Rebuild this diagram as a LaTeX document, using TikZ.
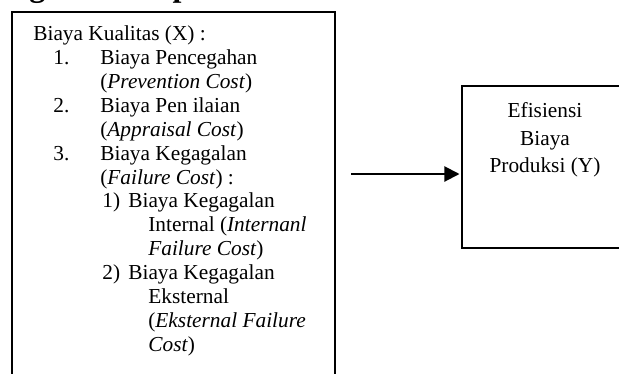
\documentclass[tikz,border=0pt]{standalone}
\usepackage{fontspec}
\setmainfont{Liberation Serif}
\usetikzlibrary{arrows.meta}
\begin{document}
\begin{tikzpicture}[x=0.5625pt,y=-0.5625pt,
  txt/.style={anchor=base west,inner sep=0pt,font=\fontsize{12}{14}\selectfont},
  ctxt/.style={anchor=base,inner sep=0pt,font=\fontsize{12}{14}\selectfont},
  boxline/.style={draw=black,line width=1.4pt,outer sep=0pt,inner sep=0pt,anchor=north west},
  link/.style={line width=1.1pt,shorten >=1.4pt,-{Triangle[length=8.5pt,width=8.5pt]}}]
\useasboundingbox (0,0) rectangle (619,374);
% heading, mostly outside the picture
\node[txt,font=\fontsize{18}{20}\selectfont\bfseries] (head) at (-58,-4) {Kerangka Konseptual};
% boxes
\node[boxline,minimum width=181.7pt,minimum height=218.3pt] (X) at (12,12) {};
\node[boxline,minimum width=93.4pt,minimum height=91.1pt] (Y) at (462,86) {};
% left box text
\node[txt] (x0) at (33,40.6) {Biaya Kualitas (X) :};
\node[txt] (n1) at (53,64.5) {1.};
\node[txt] (x1) at (100,64.5) {Biaya Pencegahan};
\node[txt] (x2) at (100,88.4) {(\textit{Prevention Cost})};
\node[txt] (n2) at (53,112.3) {2.};
\node[txt] (x3) at (100,112.3) {Biaya Pen ilaian};
\node[txt] (x4) at (100,136.2) {(\textit{Appraisal Cost})};
\node[txt] (n3) at (53,160.1) {3.};
\node[txt] (x5) at (100,160.1) {Biaya Kegagalan};
\node[txt] (x6) at (100,184) {(\textit{Failure Cost}) :};
\node[txt] (m1) at (102,207.9) {1)};
\node[txt] (x7) at (128,207.9) {Biaya Kegagalan};
\node[txt] (x8) at (148,231.8) {Internal (\textit{Internanl}};
\node[txt] (x9) at (148,255.7) {\textit{Failure Cost})};
\node[txt] (m2) at (102,279.6) {2)};
\node[txt] (x10) at (128,279.6) {Biaya Kegagalan};
\node[txt] (x11) at (148,303.5) {Eksternal};
\node[txt] (x12) at (148,327.4) {(\textit{Eksternal Failure}};
\node[txt] (x13) at (148,351.3) {\textit{Cost})};
% right box text
\node[ctxt] (y1) at (545,117) {Efisiensi};
\node[ctxt] (y2) at (545,145) {Biaya};
\node[ctxt] (y3) at (545,172.5) {Produksi (Y)};
% arrow
\coordinate (s) at (351,174);
\draw[link] (s) -- (s -| Y.west);
\end{tikzpicture}
\end{document}
